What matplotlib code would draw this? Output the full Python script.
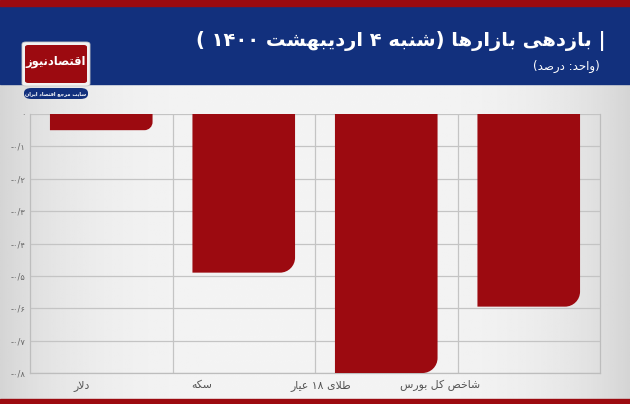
import numpy as np
import matplotlib.pyplot as plt
from matplotlib.patches import Rectangle, FancyBboxPatch, PathPatch
from matplotlib.path import Path

# chart data (values in percent)
categories = ['دلار', 'سکه', 'طلای ۱۸ عیار', 'شاخص کل بورس']
returns = [-0.05, -0.49, -0.80, -0.595]
ytick_values = [0, -0.1, -0.2, -0.3, -0.4, -0.5, -0.6, -0.7, -0.8]
ytick_labels = ['۰', '-۰/۱', '-۰/۲', '-۰/۳', '-۰/۴', '-۰/۵', '-۰/۶', '-۰/۷', '-۰/۸']

title = '| بازدهی بازارها (شنبه ۴ اردیبهشت ۱۴۰۰ )'
subtitle = '(واحد: درصد)'
logo_name = 'اقتصادنیوز'
logo_tag = 'سایت مرجع اقتصاد ایران'

BAR_RED = '#9c0a10'
NAVY = '#12307d'
W, H = 630, 404

# --- minimal arabic/persian shaping (matplotlib has no complex text layout) ---
FORMS = {  # isolated, final, initial, medial
    'ا': (0xFE8D, 0xFE8E, None, None), 'ب': (0xFE8F, 0xFE90, 0xFE91, 0xFE92),
    'ت': (0xFE95, 0xFE96, 0xFE97, 0xFE98), 'ج': (0xFE9D, 0xFE9E, 0xFE9F, 0xFEA0),
    'ح': (0xFEA1, 0xFEA2, 0xFEA3, 0xFEA4), 'خ': (0xFEA5, 0xFEA6, 0xFEA7, 0xFEA8),
    'د': (0xFEA9, 0xFEAA, None, None), 'ر': (0xFEAD, 0xFEAE, None, None),
    'ز': (0xFEAF, 0xFEB0, None, None), 'س': (0xFEB1, 0xFEB2, 0xFEB3, 0xFEB4),
    'ش': (0xFEB5, 0xFEB6, 0xFEB7, 0xFEB8), 'ص': (0xFEB9, 0xFEBA, 0xFEBB, 0xFEBC),
    'ط': (0xFEC1, 0xFEC2, 0xFEC3, 0xFEC4), 'ع': (0xFEC9, 0xFECA, 0xFECB, 0xFECC),
    'ق': (0xFED5, 0xFED6, 0xFED7, 0xFED8), 'ل': (0xFEDD, 0xFEDE, 0xFEDF, 0xFEE0),
    'م': (0xFEE1, 0xFEE2, 0xFEE3, 0xFEE4), 'ن': (0xFEE5, 0xFEE6, 0xFEE7, 0xFEE8),
    'ه': (0xFEE9, 0xFEEA, 0xFEEB, 0xFEEC), 'و': (0xFEED, 0xFEEE, None, None),
    'ی': (0xFBFC, 0xFBFD, 0xFBFE, 0xFBFF), 'ک': (0xFB8E, 0xFB8F, 0xFB90, 0xFB91),
}
LAM_ALEF = (0xFEFB, 0xFEFC, None, None)
MIRROR = {'(': ')', ')': '('}
DIGITS = set('0123456789۰۱۲۳۴۵۶۷۸۹')


def shape(text):
    # merge lam + alef into one unit first
    units = []
    i = 0
    while i < len(text):
        if text[i] == 'ل' and i + 1 < len(text) and text[i + 1] == 'ا':
            units.append(LAM_ALEF)
            i += 2
        else:
            units.append(FORMS.get(text[i], text[i]))
            i += 1
    out = []
    for k, u in enumerate(units):
        if isinstance(u, str):
            out.append(u)
            continue
        prev = units[k - 1] if k > 0 else None
        nxt = units[k + 1] if k + 1 < len(units) else None
        join_prev = isinstance(prev, tuple) and prev[2] is not None
        join_next = u[2] is not None and isinstance(nxt, tuple)
        if join_prev and join_next:
            code = u[3]
        elif join_prev:
            code = u[1]
        elif join_next:
            code = u[2]
        else:
            code = u[0]
        out.append(chr(code))
    # visual order for a right-to-left line, digit runs stay left-to-right
    runs = []
    for ch in out:
        if ch in DIGITS and runs and runs[-1][0] in DIGITS:
            runs[-1] += ch
        else:
            runs.append(MIRROR.get(ch, ch))
    return ''.join(reversed(runs))


plt.rcParams['font.family'] = ['DejaVu Sans']

fig = plt.figure(figsize=(W / 100, H / 100), dpi=100)


def fx(px):
    return px / W


def fy(py):
    return 1 - py / H


# background gradient
bg = fig.add_axes([0, 0, 1, 1], zorder=-10)
xs = np.linspace(-1, 1, 300)
prof = 0.955 - 0.12 * xs ** 4
bg.imshow(np.tile(prof, (50, 1)), cmap='gray', vmin=0, vmax=1, aspect='auto',
          extent=[0, 1, 0, 1])
bg.add_patch(Rectangle((0, fy(84)), 1, fy(6) - fy(84), color=NAVY))
bg.add_patch(Rectangle((0, fy(6)), 1, 1 - fy(6), color=BAR_RED))
bg.add_patch(Rectangle((0, 0), 1, fy(399), color=BAR_RED))
bg.set_xlim(0, 1)
bg.set_ylim(0, 1)
bg.axis('off')

# logo
bg.add_patch(FancyBboxPatch((fx(22), fy(86)), fx(68), fy(42) - fy(86),
                            boxstyle='round,pad=0,rounding_size=0.006',
                            fc='#f2f2f2', ec='#c8c8c8', lw=0.6))
bg.add_patch(FancyBboxPatch((fx(25), fy(83)), fx(62), fy(45) - fy(83),
                            boxstyle='round,pad=0,rounding_size=0.005',
                            fc=BAR_RED, ec='none'))
bg.add_patch(FancyBboxPatch((fx(24), fy(99)), fx(64), fy(88) - fy(99),
                            boxstyle='round,pad=0,rounding_size=0.012',
                            fc=NAVY, ec='none'))
fig.text(fx(56), fy(62), shape(logo_name), color='white', fontsize=8.3,
         fontweight='bold', ha='center', va='center')
fig.text(fx(56), fy(93.5), shape(logo_tag), color='white', fontsize=3.6,
         fontweight='bold', ha='center', va='center')

# titles
fig.text(fx(606), fy(41), shape(title), color='white', fontsize=14,
         fontweight='bold', ha='right', va='center')
fig.text(fx(600), fy(66), shape(subtitle), color='white', fontsize=8.5,
         ha='right', va='center')

# plot area
left, right, top, bottom = 30, 600, 114, 373
ax = fig.add_axes([fx(left), fy(bottom), fx(right - left), fy(top) - fy(bottom)])
ax.set_facecolor('none')
ax.set_xlim(-0.5, len(categories) - 0.5)
ax.set_ylim(-0.8, 0)

bar_w = 0.72
px_x = (right - left) / len(categories)
px_y = (bottom - top) / 0.8
k = 0.5523
for i, v in enumerate(returns):
    x0, x1 = i - bar_w / 2, i + bar_w / 2
    r_px = min(15, abs(v) * px_y * 0.5)
    rx, ry = r_px / px_x, r_px / px_y
    verts = [(x0, 0), (x1, 0), (x1, v + ry),
             (x1, v + ry * (1 - k)), (x1 - rx * (1 - k), v), (x1 - rx, v),
             (x0, v), (x0, 0)]
    codes = [Path.MOVETO, Path.LINETO, Path.LINETO,
             Path.CURVE4, Path.CURVE4, Path.CURVE4,
             Path.LINETO, Path.CLOSEPOLY]
    ax.add_patch(PathPatch(Path(verts, codes), fc=BAR_RED, ec='none', zorder=3))

ax.set_yticks(ytick_values)
ax.set_yticklabels(ytick_labels, fontsize=6, color='#666666')
# the source places the category labels on a narrower spacing than the bars
label_x = -0.135 + 0.837 * np.arange(len(categories))
ax.set_xticks(label_x)
ax.set_xticklabels([shape(c) for c in categories], fontsize=7.8, color='#555555')
ax.tick_params(length=0, pad=5)
ax.tick_params(axis='y', pad=3)
ax.grid(axis='y', color='#c4c4c4', lw=0.9, zorder=1)
for xb in np.arange(0.5, len(categories) - 0.5, 1):
    ax.axvline(xb, color='#c4c4c4', lw=0.9, zorder=1)
for s in ax.spines.values():
    s.set_color('#bdbdbd')
    s.set_linewidth(0.9)
ax.spines['top'].set_visible(False)

fig.savefig('out.png', dpi=100)
